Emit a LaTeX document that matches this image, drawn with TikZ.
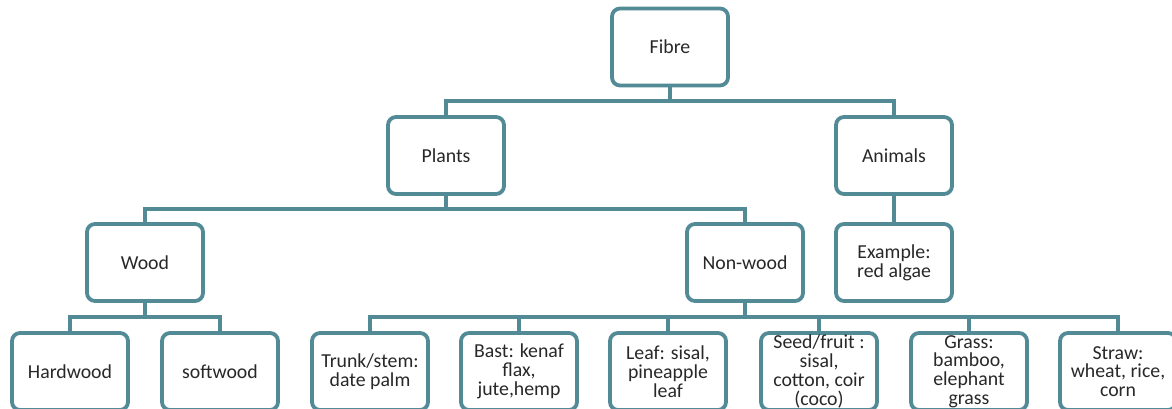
\documentclass[tikz,border=0pt]{standalone}
\usepackage{fontspec}
\setmainfont{Carlito}
\usepackage{tikz}
\definecolor{tealline}{RGB}{82,138,150}
\definecolor{textgrey}{RGB}{40,40,40}

\begin{document}
\begin{tikzpicture}
[x=1pt, y=-1pt, box/.style={draw=tealline, line width=3.8pt, rounded corners=8pt, fill=white, minimum width=116pt, minimum height=77pt, inner xsep=1pt, inner ysep=0pt, align=center, text=textgrey, font=\fontsize{19.8}{18.8}\selectfont}, link/.style={draw=tealline, line width=3.6pt}]
\useasboundingbox (0, 0) rectangle (1172, 409);
\node (fibre) [box] at (670, 47) {Fibre};
\node (plants) [box] at (446, 155.5) {Plants};
\node (animals) [box] at (894, 155.5) {Animals};
\node (wood) [box] at (145, 262.5) {Wood};
\node (nonwood) [box] at (745, 262.5) {Non-wood};
\node (example) [box] at (894, 262.5) {Example:\\red algae};
\node (hard) [box] at (70, 371.5) {Hardwood};
\node (soft) [box] at (220, 371.5) {softwood};
\node (trunk) [box] at (370, 371.5) {Trunk/stem:\\date palm};
\node (bast) [box] at (519, 371.5) {Bast: kenaf\\flax,\\jute,hemp};
\node (leaf) [box] at (668, 371.5) {Leaf: sisal,\\pineapple\\leaf};
\node (seed) [box] at (819, 371.5) {Seed/fruit :\\sisal,\\cotton, coir\\(coco)};
\node (grass) [box] at (969, 371.5) {Grass:\\bamboo,\\elephant\\grass};
\node (straw) [box] at (1118, 371.5) {Straw:\\wheat, rice,\\corn};
\coordinate (b1) at (670, 101);
\coordinate (b2) at (446, 209);
\coordinate (b3) at (145, 317);
\coordinate (b4) at (745, 317);
\path [link] (fibre.south) -- (b1) -| (plants.north);
\path [link] (b1) -| (animals.north);
\path [link] (animals.south) -- (example.north);
\path [link] (plants.south) -- (b2) -| (wood.north);
\path [link] (b2) -| (nonwood.north);
\path [link] (wood.south) -- (b3) -| (hard.north);
\path [link] (b3) -| (soft.north);
\path [link] (nonwood.south) -- (b4) -| (trunk.north);
\path [link] (b4) -| (bast.north);
\path [link] (b4) -| (leaf.north);
\path [link] (b4) -| (seed.north);
\path [link] (b4) -| (grass.north);
\path [link] (b4) -| (straw.north);
\end{tikzpicture}
\end{document}
